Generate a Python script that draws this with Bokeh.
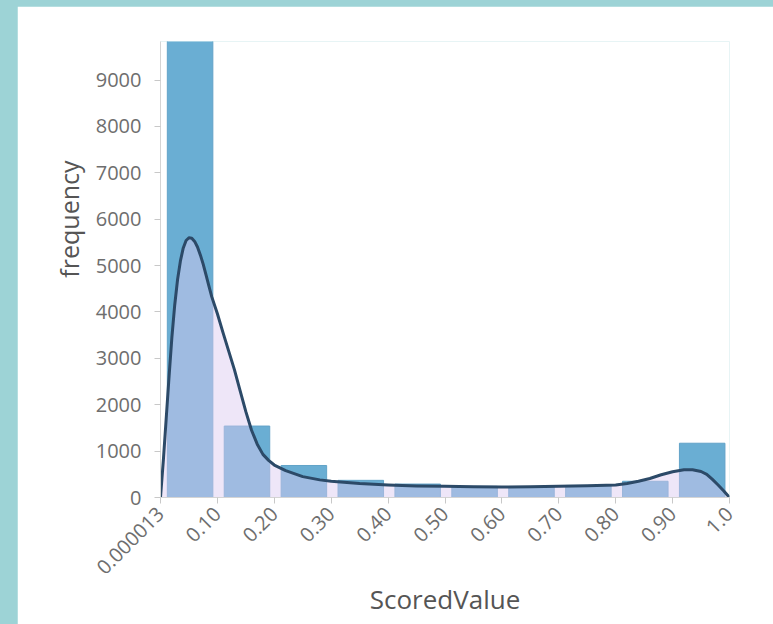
import numpy as np
from bokeh.plotting import figure
from bokeh.models import FixedTicker, ColumnDataSource, GlobalInlineStyleSheet, Range1d, Title
from bokeh.embed import file_html
from bokeh.resources import INLINE

# ---- data ----
bin_starts = [0.0, 0.1, 0.2, 0.3, 0.4, 0.5, 0.6, 0.7, 0.8, 0.9]
frequencies = [9900, 1540, 690, 370, 290, 240, 230, 260, 350, 1170]

kde_x = [0.000, 0.005, 0.010, 0.015, 0.020, 0.025, 0.030, 0.035, 0.040, 0.045,
         0.050, 0.055, 0.060, 0.065, 0.070, 0.075, 0.080, 0.085, 0.090, 0.100,
         0.110, 0.120, 0.130, 0.140, 0.150, 0.160, 0.170, 0.180, 0.190, 0.200,
         0.220, 0.250, 0.280, 0.300, 0.350, 0.400, 0.450, 0.500, 0.550, 0.600,
         0.650, 0.700, 0.750, 0.800, 0.820, 0.840, 0.860, 0.880, 0.900, 0.920,
         0.935, 0.950, 0.960, 0.970, 0.980, 0.990, 1.000]
kde_y = [0, 800, 1700, 2600, 3450, 4150, 4700, 5100, 5380, 5540,
         5600, 5590, 5520, 5400, 5230, 5030, 4800, 4560, 4330, 3960,
         3550, 3150, 2750, 2300, 1850, 1450, 1150, 930, 800, 700,
         580, 450, 380, 350, 300, 270, 250, 240, 230, 225,
         230, 240, 255, 270, 300, 350, 410, 490, 555, 598,
         600, 560, 500, 390, 270, 140, 0]

x_ticks = [0.000013, 0.1, 0.2, 0.3, 0.4, 0.5, 0.6, 0.7, 0.8, 0.9, 1.0]
x_tick_labels = ["0.000013", "0.10", "0.20", "0.30", "0.40", "0.50",
                 "0.60", "0.70", "0.80", "0.90", "1.0"]
y_ticks = [0, 1000, 2000, 3000, 4000, 5000, 6000, 7000, 8000, 9000]
x_title = "ScoredValue"
y_title = "frequency"

FONT = "Open Sans"

p = figure(width=756, height=618, output_backend="svg", toolbar_location=None,
           x_range=Range1d(0, 1.0), y_range=Range1d(0, 9830),
           min_border_left=143, min_border_right=44, min_border_top=35,
           min_border_bottom=127)
p.stylesheets.append(GlobalInlineStyleSheet(
    css="html, body { background: #9dd3d6; } body { margin: 6px 0 0 17px; }"))
p.background_fill_color = "white"
p.border_fill_color = "white"
p.outline_line_color = None
p.xgrid.visible = False
p.ygrid.visible = False

left = [b + 0.012 for b in bin_starts]
right = [b + 0.092 for b in bin_starts]
src = ColumnDataSource(dict(left=left, right=right, top=frequencies,
                            bottom=[0] * len(frequencies)))
p.quad(left="left", right="right", top="top", bottom="bottom", source=src,
       fill_color="#6aaed3", line_color="#62a3c8", line_width=1)

p.varea(x=kde_x, y1=[0] * len(kde_x), y2=kde_y, fill_color="#dbcaf0", fill_alpha=0.47)
p.line(x=kde_x, y=kde_y, line_color="#2c4a68", line_width=3, line_join="round")

# axes styling
p.xaxis.ticker = FixedTicker(ticks=x_ticks)
p.xaxis.major_label_overrides = {t: l for t, l in zip(x_ticks, x_tick_labels)}
p.xaxis.major_label_orientation = np.pi / 4
p.yaxis.ticker = FixedTicker(ticks=y_ticks)

for ax in (p.xaxis[0], p.yaxis[0]):
    ax.axis_line_color = "#d4d4d4"
    ax.major_tick_line_color = "#c8c8c8"
    ax.minor_tick_line_color = None
    ax.major_tick_in = 0
    ax.major_tick_out = 6
    ax.major_label_text_font = FONT
    ax.major_label_text_font_size = "20px"
    ax.major_label_text_color = "#6e6e6e"
    ax.axis_label_text_font = FONT
    ax.axis_label_text_font_size = "26px"
    ax.axis_label_text_font_style = "normal"
    ax.axis_label_text_color = "#555555"

p.yaxis.major_label_standoff = 13
p.xaxis.major_label_standoff = 7
p.xaxis.axis_label = x_title
p.xaxis.axis_label_standoff = -3

# y title as a side title so it can sit above the frame centre, as in the reference
p.add_layout(Title(text=y_title, align="right", offset=119, standoff=13,
                   text_font=FONT, text_font_size="25px", text_font_style="normal",
                   text_color="#555555"), "left")

open("out.html", "w").write(file_html(p, INLINE))
